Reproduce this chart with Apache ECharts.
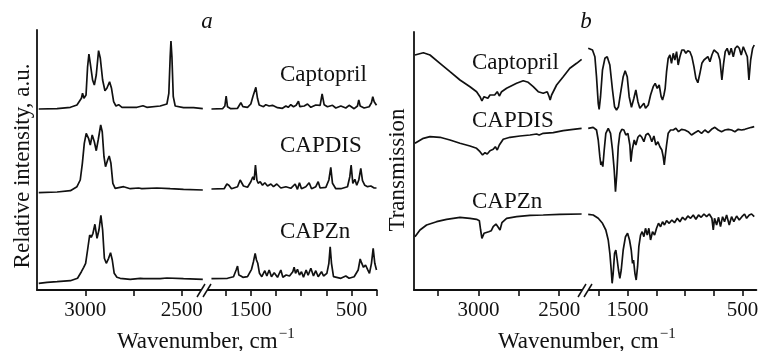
<!DOCTYPE html>
<html>
<head>
<meta charset="utf-8">
<script src="https://cdn.jsdelivr.net/npm/echarts@6/dist/echarts.min.js"></script>
<style>
  html, body { margin: 0; padding: 0; background: #fff; }
  #chart { width: 762px; height: 351px; }
</style>
</head>
<body>
<div id="chart"></div>
<script>
// [wavenumber cm-1, relative value], traces are stacked with vertical offsets as in the figure
// panel a: Raman, high-wavenumber part (3250..2390)
const ramanCaptoprilHigh = [
  [3241, 181], [3146, 181.3], [3077, 182.7], [3043, 185], [3020, 191.7], [3014, 196.7], [3007, 191.7],
  [2996, 195], [2988, 223], [2981, 236], [2974, 226.7], [2962, 210], [2953, 205], [2943, 215],
  [2931, 239.3], [2922, 231.7], [2910, 210], [2898, 199.3], [2888, 201.7], [2874, 208.3], [2864, 201.7],
  [2853, 188.3], [2841, 184], [2827, 185.3], [2810, 182.7], [2732, 182.7], [2701, 184.3], [2681, 182.7],
  [2612, 184], [2577, 186], [2567, 196.7], [2560, 233.3], [2556, 249], [2551, 233.3], [2544, 193.3],
  [2534, 184], [2491, 182.3], [2439, 182.3], [2391, 181.3]
]
const ramanCapdisHigh = [
  [3241, 97.3], [3146, 98], [3077, 99.3], [3043, 103.3], [3026, 110], [3015, 126.7], [3005, 146.7],
  [2995, 156.7], [2983, 151.7], [2974, 145], [2964, 155], [2953, 148.3], [2943, 139.3], [2933, 150],
  [2920, 165], [2912, 158.3], [2903, 133.3], [2895, 123.3], [2884, 130], [2876, 134], [2867, 126.7],
  [2857, 106.7], [2845, 101.7], [2801, 103.3], [2767, 101.3], [2724, 102], [2717, 104], [2707, 101.3],
  [2629, 102], [2560, 101.3], [2491, 100.7], [2391, 100]
]
const ramanCapznHigh = [
  [3241, 6.7], [3198, 7.7], [3146, 8.3], [3077, 9.3], [3040, 11.7], [3020, 18.3], [3008, 22.7],
  [2998, 26.7], [2988, 40], [2977, 55], [2969, 52.7], [2960, 56.7], [2950, 65.7], [2939, 51.7],
  [2929, 60], [2919, 74.7], [2910, 60], [2901, 31.7], [2891, 26.7], [2879, 31.7], [2869, 37.3],
  [2860, 30], [2850, 16.7], [2836, 12.7], [2827, 14], [2819, 11.7], [2767, 10.7], [2715, 11.7],
  [2707, 13.3], [2698, 11.3], [2612, 11.3], [2577, 12], [2491, 11.3], [2391, 10.7]
]
// panel a: Raman, fingerprint part (1975..250)
const ramanCaptoprilLow = [
  [1891, 181], [1781, 181.3], [1758, 184], [1745, 194], [1732, 183.3], [1699, 181.3], [1632, 181.7],
  [1599, 187.3], [1579, 183.3], [1533, 182.7], [1500, 186], [1480, 193.3], [1467, 191.7], [1450, 202.7],
  [1434, 191.7], [1417, 185], [1401, 186.7], [1374, 183.3], [1351, 185.3], [1318, 184], [1285, 184.7],
  [1235, 182.3], [1186, 181.7], [1152, 184], [1129, 182.7], [1103, 185.3], [1076, 183.3], [1050, 184.7],
  [1027, 188.7], [1013, 183.3], [970, 184], [937, 186], [904, 182.7], [855, 185], [812, 184.7],
  [792, 196], [772, 185.3], [739, 183.3], [689, 184.7], [656, 182], [606, 184], [557, 182], [524, 184.7],
  [474, 181.3], [441, 184], [428, 190], [414, 184], [375, 182], [325, 183.3], [302, 187.3], [289, 193.3],
  [275, 188.3], [252, 184.7]
]
const ramanCapdisLow = [
  [1891, 101], [1765, 101.3], [1738, 106], [1718, 104.7], [1692, 101.3], [1632, 103.3], [1606, 110],
  [1593, 111.7], [1573, 104], [1533, 102.7], [1500, 108.3], [1480, 113.3], [1467, 110], [1454, 125],
  [1440, 110], [1427, 106.7], [1407, 108.3], [1384, 104.7], [1361, 107.3], [1334, 104], [1301, 106],
  [1275, 103.3], [1242, 106], [1202, 102], [1152, 103.3], [1103, 101.7], [1060, 106], [1037, 100.7],
  [1017, 107.3], [997, 101.3], [954, 103.3], [921, 107.3], [897, 101.3], [855, 103.3], [831, 108.3],
  [812, 102], [755, 102.7], [725, 110], [706, 122.7], [689, 106.7], [656, 101.3], [606, 101.3],
  [540, 103.3], [517, 113.3], [504, 125], [487, 106.7], [467, 110.7], [448, 104.7], [428, 110],
  [408, 121.7], [391, 109.3], [368, 104.7], [341, 103.3], [308, 104], [275, 102], [252, 102]
]
const ramanCapznLow = [
  [1891, 11.3], [1732, 11.7], [1672, 13.3], [1646, 20], [1632, 24], [1619, 15], [1599, 14], [1579, 12.7],
  [1533, 13.3], [1493, 20.7], [1474, 28.3], [1457, 36.7], [1444, 30], [1431, 26.7], [1414, 16.7],
  [1391, 13.3], [1361, 19.3], [1341, 14], [1318, 20], [1295, 13.3], [1268, 17.3], [1235, 12.7],
  [1202, 20], [1182, 12.7], [1149, 15], [1116, 14], [1083, 18.3], [1070, 22.7], [1056, 16.7],
  [1037, 20.7], [1017, 15], [997, 18.3], [977, 12.7], [951, 20], [931, 14.7], [904, 21.7], [878, 14],
  [855, 19.3], [831, 13.3], [798, 18.3], [778, 14], [745, 16.7], [725, 26.7], [712, 43.3], [699, 26.7],
  [679, 13.3], [606, 11.7], [557, 14], [524, 11.7], [474, 13.3], [434, 20], [414, 31], [401, 27.3],
  [381, 22.7], [361, 25], [341, 20.7], [322, 16.7], [302, 26.7], [285, 41.7], [269, 26.7], [252, 20]
]
// panel b: IR, high-wavenumber part (3400..2340)
const irCaptoprilHigh = [
  [3394, 235], [3342, 237.3], [3301, 235], [3239, 226.7], [3177, 218.3], [3115, 210], [3053, 203.3],
  [3012, 198.3], [2991, 193.3], [2979, 189], [2966, 193.3], [2954, 195], [2942, 191.7], [2929, 195],
  [2917, 196.7], [2900, 195], [2884, 198.3], [2871, 194], [2857, 198.3], [2826, 201.7], [2764, 206.7],
  [2723, 209.3], [2692, 207.7], [2661, 203.3], [2630, 198.3], [2599, 196.7], [2574, 198.3], [2562, 193.3],
  [2556, 190], [2547, 195], [2516, 205], [2475, 213.3], [2434, 221.7], [2392, 226.7], [2361, 230.7]
]
const irCapdisHigh = [
  [3394, 146.7], [3342, 151.7], [3301, 153.3], [3239, 152.7], [3177, 150], [3115, 146.7], [3053, 144],
  [3012, 141.7], [2991, 138.3], [2975, 135], [2960, 137.3], [2946, 136], [2929, 139.3], [2909, 140.7],
  [2896, 143.3], [2884, 140], [2871, 145], [2847, 150.7], [2805, 152.7], [2743, 154], [2681, 155],
  [2640, 156], [2624, 155], [2599, 156.7], [2537, 157.3], [2475, 159.3], [2413, 160.7], [2361, 161.7]
]
const irCapznHigh = [
  [3394, 53.3], [3363, 60], [3322, 65], [3260, 68.3], [3198, 70.7], [3115, 72.7], [3053, 71.7],
  [3012, 70.7], [2995, 69.3], [2987, 60], [2979, 51.7], [2966, 56.7], [2954, 55], [2937, 58.3],
  [2921, 59.3], [2909, 63.3], [2892, 66], [2880, 63.3], [2867, 60], [2855, 67.3], [2826, 71.7],
  [2764, 73.3], [2681, 74.7], [2599, 75], [2496, 75.7], [2361, 76]
]
// panel b: IR, fingerprint part (1870..380)
const irCaptoprilLow = [
  [1842, 241.7], [1805, 240], [1784, 233.3], [1770, 213.3], [1755, 186.7], [1747, 180.7], [1735, 193.3],
  [1718, 220], [1697, 231.7], [1677, 233.3], [1654, 225], [1631, 200], [1613, 183.3], [1596, 180],
  [1579, 183.3], [1561, 196.7], [1538, 213.3], [1521, 219.3], [1503, 213.3], [1486, 193.3], [1466, 182.7],
  [1445, 191.7], [1428, 200], [1410, 188.3], [1393, 181.7], [1376, 183.3], [1358, 186.7], [1344, 181.7],
  [1320, 185], [1300, 195], [1277, 203.3], [1260, 206.7], [1242, 201.7], [1225, 205], [1208, 193.3],
  [1196, 190], [1184, 195], [1173, 201.7], [1161, 218.3], [1147, 231.7], [1132, 235], [1118, 226.7],
  [1103, 236.7], [1089, 230], [1074, 238.3], [1060, 225], [1045, 233.3], [1028, 240], [1010, 240],
  [993, 236.7], [976, 239.3], [958, 238.3], [941, 233.3], [923, 223.3], [906, 211.7], [889, 207.3],
  [871, 216.7], [854, 226.7], [836, 230], [819, 228.3], [802, 233.3], [784, 228.3], [767, 235], [749, 240],
  [732, 241.7], [715, 236.7], [697, 230], [680, 210], [665, 226.7], [651, 238.3], [634, 241.7], [616, 235],
  [599, 241.7], [581, 233.3], [564, 241.7], [546, 244], [529, 241.7], [512, 235], [494, 243.3], [477, 244],
  [459, 233.3], [445, 210], [430, 230], [413, 241.7], [399, 245]
]
const irCapdisLow = [
  [1842, 161.7], [1799, 162.7], [1770, 160], [1755, 150], [1741, 133.3], [1732, 125], [1724, 128.3],
  [1715, 123.3], [1703, 140], [1689, 156.7], [1668, 161.7], [1648, 156.7], [1631, 140], [1616, 120],
  [1605, 98.3], [1593, 116.7], [1581, 143.3], [1567, 156.7], [1550, 160.7], [1532, 160], [1515, 155],
  [1497, 156.7], [1480, 145], [1471, 128.3], [1460, 140], [1442, 150], [1428, 145], [1410, 152.7],
  [1393, 155], [1376, 152.7], [1358, 148.3], [1341, 155], [1323, 156.7], [1306, 154], [1289, 148.3],
  [1271, 154], [1254, 145], [1236, 148.3], [1219, 143.3], [1202, 140], [1190, 133.3], [1181, 125],
  [1173, 133.3], [1161, 145], [1147, 156.7], [1126, 160], [1103, 160], [1080, 161.7], [1057, 158.3],
  [1031, 160.7], [1002, 160], [973, 158.3], [944, 155], [915, 157.3], [886, 159.3], [857, 156.7],
  [828, 160], [799, 157.3], [770, 160.7], [741, 162.7], [712, 160], [683, 158.3], [654, 160], [625, 160.7],
  [596, 160], [567, 158.3], [538, 160.7], [509, 160], [480, 160.7], [451, 161.7], [422, 162.7], [399, 163.3]
]
const irCapznLow = [
  [1842, 75.7], [1799, 75], [1755, 71.7], [1718, 66.7], [1689, 60], [1668, 50], [1654, 36.7], [1642, 20],
  [1634, 6.7], [1625, 16.7], [1613, 36.7], [1602, 40], [1590, 30], [1579, 20], [1567, 11.7], [1555, 20],
  [1538, 40], [1518, 53.3], [1500, 56.7], [1483, 50], [1468, 40], [1457, 26.7], [1448, 30], [1436, 16.7],
  [1425, 10], [1413, 23.3], [1402, 43.3], [1387, 55], [1373, 58.3], [1358, 53.3], [1344, 61.7], [1329, 55],
  [1315, 61.7], [1300, 50], [1283, 58.3], [1265, 55], [1248, 61.7], [1231, 66.7], [1213, 63.3],
  [1196, 68.3], [1179, 65], [1161, 69.3], [1138, 66.7], [1115, 70], [1092, 67.3], [1068, 71.7],
  [1045, 68.3], [1022, 72.7], [999, 70], [976, 74], [952, 71.7], [929, 75], [906, 70.7], [883, 75],
  [860, 72.7], [836, 76], [813, 73.3], [790, 76], [767, 71.7], [755, 60], [744, 71.7], [726, 65],
  [709, 72.7], [692, 63.3], [674, 73.3], [657, 68.3], [639, 75], [616, 65], [596, 73.3], [576, 68.3],
  [552, 74], [529, 70], [506, 73.3], [483, 76], [465, 71.7], [442, 75], [422, 76], [399, 73.3]
]

const ramanHighTicks = [3000, 2750, 2500]
const ramanLowTicks = [1750, 1500, 1250, 1000, 750, 500, 250]
const irHighTicks = [3250, 3000, 2750, 2500]
const irLowTicks = [1750, 1500, 1250, 1000, 750, 500]
const highLabels = [3000, 2500]
const lowLabels = [1500, 500]
const sampleNames = ['Captopril', 'CAPDIS', 'CAPZn']

const FONT = '"Liberation Serif", "Times New Roman", serif'
const INK = '#111'

const chart = echarts.init(document.getElementById('chart'))

function xAxis(gridIndex, min, max, ticks, labels) {
  return {
    type: 'value', gridIndex, inverse: true, min, max,
    axisLine: { show: true, onZero: false, lineStyle: { color: INK, width: 1.8 } },
    axisTick: { show: true, customValues: ticks, length: 6, lineStyle: { color: INK, width: 1.6 } },
    axisLabel: {
      show: true, customValues: labels, margin: 10, fontSize: 21, fontFamily: FONT, color: INK,
      formatter: (v) => String(v)
    },
    splitLine: { show: false }
  }
}

function yAxis(gridIndex, max, showLine) {
  return {
    type: 'value', gridIndex, min: 0, max,
    axisLine: { show: showLine, onZero: false, lineStyle: { color: INK, width: 1.8 } },
    axisTick: { show: false }, axisLabel: { show: false }, splitLine: { show: false }
  }
}

function trace(data, index) {
  return {
    type: 'line', xAxisIndex: index, yAxisIndex: index, data,
    showSymbol: false, silent: true,
    lineStyle: { color: INK, width: 1.7 }
  }
}

function textStyle(text, font, align) {
  return { text, fill: INK, font, align, verticalAlign: 'middle', textAlign: align, textVerticalAlign: 'middle' }
}

function label(text, x, y) {
  return { type: 'text', x, y, silent: true, style: textStyle(text, '23px ' + FONT, 'left') }
}

function breakMark(cx, cy) {
  return [
    { type: 'rect', shape: { x: cx - 3, y: cy - 3, width: 6, height: 6 }, style: { fill: '#fff' }, z: 10 },
    { type: 'line', shape: { x1: cx - 7, y1: cy + 7, x2: cx + 1, y2: cy - 6 }, style: { stroke: INK, lineWidth: 1.5 }, z: 11 },
    { type: 'line', shape: { x1: cx - 1, y1: cy + 7, x2: cx + 7, y2: cy - 6 }, style: { stroke: INK, lineWidth: 1.5 }, z: 11 }
  ]
}

function xTitle(x) {
  return {
    type: 'text', x, y: 340, silent: true,
    style: {
      text: '{m|Wavenumber, cm}{s|−1}', fill: INK, align: 'left', verticalAlign: 'middle',
      textAlign: 'left', textVerticalAlign: 'middle',
      rich: {
        m: { fontSize: 23, fontFamily: FONT, color: INK, verticalAlign: 'bottom' },
        s: { fontSize: 15, fontFamily: FONT, color: INK, verticalAlign: 'top', padding: [0, 0, 12, 1] }
      }
    }
  }
}

chart.setOption({
  animation: false,
  backgroundColor: '#fff',
  grid: [
    { left: 37, top: 30, width: 166, height: 260, outerBoundsMode: 'none' },
    { left: 203, top: 30, width: 173.7, height: 260, outerBoundsMode: 'none' },
    { left: 414, top: 32, width: 171, height: 258, outerBoundsMode: 'none' },
    { left: 585, top: 32, width: 171.4, height: 258, outerBoundsMode: 'none' }
  ],
  xAxis: [
    xAxis(0, 2390, 3250, ramanHighTicks, highLabels),
    xAxis(1, 250, 1975, ramanLowTicks, lowLabels),
    xAxis(2, 2340, 3400, irHighTicks, highLabels),
    xAxis(3, 380, 1870, irLowTicks, lowLabels)
  ],
  yAxis: [yAxis(0, 260, true), yAxis(1, 260, false), yAxis(2, 258, true), yAxis(3, 258, false)],
  series: [
    trace(ramanCaptoprilHigh, 0), trace(ramanCapdisHigh, 0), trace(ramanCapznHigh, 0),
    trace(ramanCaptoprilLow, 1), trace(ramanCapdisLow, 1), trace(ramanCapznLow, 1),
    trace(irCaptoprilHigh, 2), trace(irCapdisHigh, 2), trace(irCapznHigh, 2),
    trace(irCaptoprilLow, 3), trace(irCapdisLow, 3), trace(irCapznLow, 3)
  ],
  graphic: [
    { type: 'text', x: 207, y: 22, silent: true, style: textStyle('a', 'italic 23px ' + FONT, 'center') },
    { type: 'text', x: 586, y: 22, silent: true, style: textStyle('b', 'italic 23px ' + FONT, 'center') },
    label(sampleNames[0], 280, 75), label(sampleNames[1], 280, 146), label(sampleNames[2], 280, 232),
    label(sampleNames[0], 472, 63), label(sampleNames[1], 472, 121), label(sampleNames[2], 472, 202),
    { type: 'text', x: 23, y: 166, rotation: Math.PI / 2, silent: true,
      style: textStyle('Relative intensity, a.u.', '23px ' + FONT, 'center') },
    { type: 'text', x: 398, y: 170, rotation: Math.PI / 2, silent: true,
      style: textStyle('Transmission', '23px ' + FONT, 'center') },
    xTitle(117), xTitle(498),
    ...breakMark(204, 290), ...breakMark(585, 290)
  ]
})
</script>
</body>
</html>
